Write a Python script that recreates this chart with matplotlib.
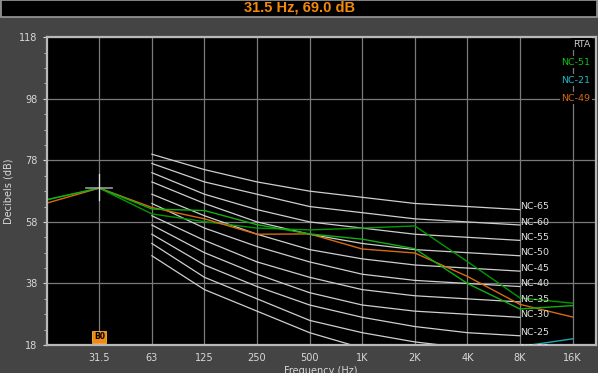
import numpy as np
import matplotlib.pyplot as plt
from matplotlib.patches import Rectangle
from matplotlib.ticker import FixedLocator

# octave bands, index 0 is the 16 Hz band at the left edge
bands = ["16", "31.5", "63", "125", "250", "500", "1K", "2K", "4K", "8K", "16K"]
tick_bands = bands[1:]
db_ticks = [18, 38, 58, 78, 98, 118]

# NC reference curves, 63 Hz .. 8K
nc_names = ["NC-15", "NC-20", "NC-25", "NC-30", "NC-35", "NC-40",
            "NC-45", "NC-50", "NC-55", "NC-60", "NC-65"]
nc_levels = [
    [47, 36, 29, 22, 17, 14, 12, 11],
    [51, 40, 33, 26, 22, 19, 17, 16],
    [54, 44, 37, 31, 27, 24, 22, 21],
    [57, 48, 41, 35, 31, 29, 28, 27],
    [60, 52, 45, 40, 36, 34, 33, 32],
    [64, 56, 50, 45, 41, 39, 38, 37],
    [67, 60, 54, 49, 46, 44, 43, 42],
    [71, 64, 58, 54, 51, 49, 48, 47],
    [74, 67, 62, 58, 56, 54, 53, 52],
    [77, 71, 67, 63, 61, 59, 58, 57],
    [80, 75, 71, 68, 66, 64, 63, 62],
]

# measured spectra (dB), 16 Hz .. 16K
nc51 = [65.2, 69.0, 62.2, 61.7, 57.1, 54.1, 52.4, 49.3, 38.0, 29.7, 30.8]
nc51_b = [65.2, 69.0, 60.6, 58.1, 56.0, 55.4, 56.0, 56.7, 45.1, 33.3, 31.6]
nc49 = [64.1, 69.0, 62.7, 59.0, 54.0, 54.1, 49.2, 47.9, 40.3, 31.2, 27.1]
nc21 = [np.nan] * 9 + [17.5, 20.0]

legend_names = ["RTA", "NC-51", "NC-21", "NC-49"]
legend_colors = ["#c8c8c8", "#10c010", "#20b8c8", "#d86a10"]

cursor_band = 1
cursor_db = 69.0

W, H = 598, 373
fig = plt.figure(figsize=(W / 100, H / 100), dpi=100)
fig.patch.set_facecolor("#444444")

# title bar
fig.patches.append(Rectangle((0.5 / W, 1 - 16.5 / H), 1 - 1.5 / W, 16 / H,
                             transform=fig.transFigure, facecolor="black",
                             edgecolor="#9a9a9a", lw=1.2))
fig.text(0.5, 1 - 8 / H, "31.5 Hz, 69.0 dB", color="#f58a0a", fontsize=10.5,
         fontweight="bold", family="Liberation Sans", ha="center", va="center")

ax = fig.add_axes([46.7 / W, (H - 345) / H, (595.7 - 46.7) / W, (345 - 37.3) / H])
ax.set_facecolor("black")
ax.set_xlim(0, 10.44)
ax.set_ylim(18, 118)

x = np.arange(len(bands))
xnc = x[2:10]

ax.xaxis.set_major_locator(FixedLocator(x[1:]))
ax.set_xticklabels(tick_bands)
ax.yaxis.set_major_locator(FixedLocator(db_ticks))
ax.yaxis.set_minor_locator(FixedLocator(np.arange(18, 119, 5)))
ax.grid(True, which="major", color="#7a7a7a", lw=0.9)
ax.set_axisbelow(True)
ax.tick_params(colors="#d8d8d8", labelsize=7, length=3, width=0.8)
ax.tick_params(axis="x", length=0, pad=6)
ax.tick_params(which="minor", length=2, color="#cfcfcf")
for s in ax.spines.values():
    s.set_color("#b8b8b8")
    s.set_linewidth(1.6)

for name, lv in zip(nc_names, nc_levels):
    ax.plot(xnc, lv, color="#cfcfcf", lw=0.9)
    ax.text(xnc[-1] + 0.01, lv[-1] + 0.9, name, color="#e0e0e0", fontsize=6.8,
            va="center", ha="left", clip_on=True)

ax.plot(x, nc51_b, color="#009a00", lw=1.0)
ax.plot(x, nc49, color=legend_colors[3], lw=1.0)
ax.plot(x, nc51, color="#10b010", lw=1.0)
ax.plot(x, nc21, color="#1aa8b8", lw=1.0)

# cursor
ax.plot([cursor_band - 0.25, cursor_band + 0.25], [cursor_db, cursor_db], color="#9a9a9a", lw=1.2)
ax.plot([cursor_band, cursor_band], [cursor_db - 3.8, cursor_db + 4.6], color="#e0e0e0", lw=0.9)

# band marker
ax.annotate("B0", (cursor_band, 18), xytext=(0, 6), textcoords="offset points",
            ha="center", va="center", fontsize=5.5, color="black", fontweight="bold",
            bbox=dict(boxstyle="square,pad=0.2", facecolor="#f08a10", edgecolor="#ffb040", lw=0.6))

for i, (name, col) in enumerate(zip(legend_names, legend_colors)):
    ax.text(0.99, 0.978 - i * 0.0585, name, transform=ax.transAxes, color=col,
            fontsize=6.8, ha="right", va="center",
            bbox=dict(boxstyle="square,pad=0.15", facecolor="black", edgecolor="none"))

ax.set_xlabel("Frequency (Hz)", color="#d8d8d8", fontsize=7, labelpad=2)
ax.set_ylabel("Decibels (dB)", color="#d8d8d8", fontsize=7, labelpad=4)

fig.savefig("out.png", dpi=100, facecolor=fig.get_facecolor())
